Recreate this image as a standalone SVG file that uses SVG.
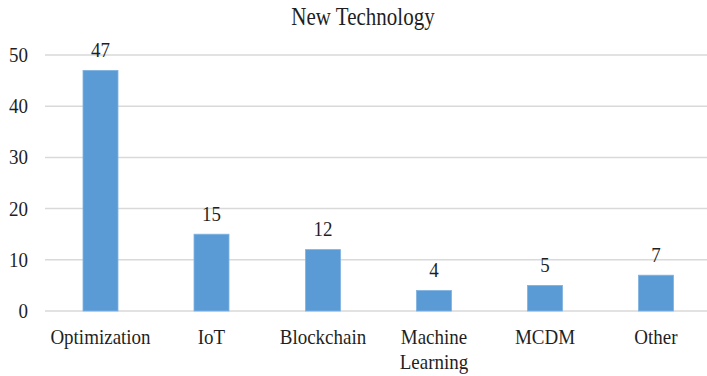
<svg xmlns="http://www.w3.org/2000/svg" width="707" height="376" viewBox="0 0 707 376">
<style>
.t{font-family:'Liberation Serif','Times New Roman',serif;fill:#1f1f1f;font-size:19px}
.grid{stroke:#d9d9d9;stroke-width:1.5}
.bar{fill:#5b9bd5;stroke:#7fb2e0;stroke-width:0.8}
</style>
<rect width="707" height="376" fill="#ffffff"/>
<text class="t" text-anchor="middle" transform="translate(363,25) scale(1,1.2)" style="font-size:21px">New Technology</text>
<g id="grid">
<line class="grid" x1="45" y1="55" x2="707" y2="55"/>
<line class="grid" x1="45" y1="106.2" x2="707" y2="106.2"/>
<line class="grid" x1="45" y1="157.4" x2="707" y2="157.4"/>
<line class="grid" x1="45" y1="208.6" x2="707" y2="208.6"/>
<line class="grid" x1="45" y1="259.8" x2="707" y2="259.8"/>
<line class="grid" x1="45" y1="311" x2="707" y2="311"/>
</g>
<g id="yaxis" text-anchor="end">
<text class="t" transform="translate(28,62) scale(1,1.1)">50</text>
<text class="t" transform="translate(28,113.2) scale(1,1.1)">40</text>
<text class="t" transform="translate(28,164.4) scale(1,1.1)">30</text>
<text class="t" transform="translate(28,215.6) scale(1,1.1)">20</text>
<text class="t" transform="translate(28,266.8) scale(1,1.1)">10</text>
<text class="t" transform="translate(28,318) scale(1,1.1)">0</text>
</g>
<g id="optimization">
<rect class="bar" x="83" y="70.4" width="35" height="240.6"/>
<text class="t" text-anchor="middle" transform="translate(100.5,57) scale(1,1.1)">47</text>
<text class="t" text-anchor="middle" transform="translate(100.5,344) scale(1,1.1)">Optimization</text>
</g>
<g id="iot">
<rect class="bar" x="194" y="234.2" width="35" height="76.8"/>
<text class="t" text-anchor="middle" transform="translate(211.5,220.7) scale(1,1.1)">15</text>
<text class="t" text-anchor="middle" transform="translate(211.5,344) scale(1,1.1)">IoT</text>
</g>
<g id="blockchain">
<rect class="bar" x="305.5" y="249.6" width="35" height="61.4"/>
<text class="t" text-anchor="middle" transform="translate(323,236) scale(1,1.1)">12</text>
<text class="t" text-anchor="middle" transform="translate(323,344) scale(1,1.1)">Blockchain</text>
</g>
<g id="machine-learning">
<rect class="bar" x="416.5" y="290.5" width="35" height="20.5"/>
<text class="t" text-anchor="middle" transform="translate(434,277) scale(1,1.1)">4</text>
<text class="t" text-anchor="middle" transform="translate(434,344) scale(1,1.1)">Machine</text>
<text class="t" text-anchor="middle" transform="translate(434,369) scale(1,1.1)">Learning</text>
</g>
<g id="mcdm">
<rect class="bar" x="527.5" y="285.4" width="35" height="25.6"/>
<text class="t" text-anchor="middle" transform="translate(545,272) scale(1,1.1)">5</text>
<text class="t" text-anchor="middle" transform="translate(545,344) scale(1,1.1)">MCDM</text>
</g>
<g id="other">
<rect class="bar" x="638.5" y="275.2" width="35" height="35.8"/>
<text class="t" text-anchor="middle" transform="translate(656,261.7) scale(1,1.1)">7</text>
<text class="t" text-anchor="middle" transform="translate(656,344) scale(1,1.1)">Other</text>
</g>
</svg>
